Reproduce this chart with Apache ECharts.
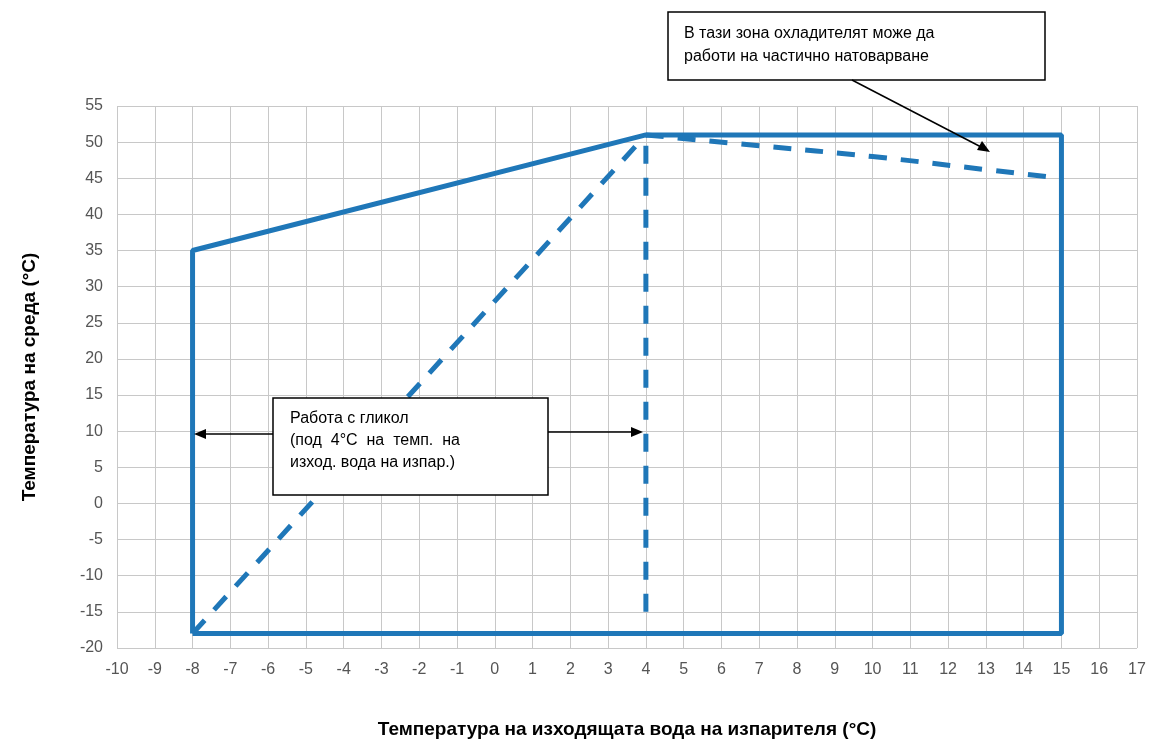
<!DOCTYPE html><html><head><meta charset="utf-8"><script src="https://cdn.jsdelivr.net/npm/echarts@6/dist/echarts.min.js"></script></head><body style="margin:0"><div id="c" style="width:1156px;height:753px"></div><script>
const envelopeX=[-8,-8,4,15,15,-8];
const envelopeY=[-18,35,51,51,-18,-18];
const glycolX=[-8,4];
const glycolY=[-18,51];
const verticalX=[4,4];
const verticalY=[-15,51];
const partX=[4,7,10,13,15];
const partY=[51,49.5,48,46.2,45];
const zip=(a,b)=>a.map((v,i)=>[v,b[i]]);
const blue='#1f77b8';
const ch=echarts.init(document.getElementById('c'));
const f='Arial, Liberation Sans, sans-serif';
ch.setOption({
animation:false,backgroundColor:'#fff',
grid:{left:117,right:19,top:106,bottom:105},
xAxis:{type:'value',min:-10,max:17,interval:1,name:'Температура на изходящата вода на изпарителя (°C)',nameLocation:'middle',nameGap:72,
nameTextStyle:{fontFamily:f,fontSize:19,fontWeight:'bold',color:'#000'},
axisLine:{show:false},axisTick:{show:false},axisLabel:{fontFamily:f,fontSize:16,color:'#555',margin:14},splitLine:{lineStyle:{color:'#c8c8c8'}}},
yAxis:{type:'value',min:-20,max:55,interval:5,name:'Температура на среда (°C)',nameLocation:'middle',nameGap:78,
nameTextStyle:{fontFamily:f,fontSize:19,fontWeight:'bold',color:'#000'},
axisLine:{show:false},axisTick:{show:false},axisLabel:{fontFamily:f,fontSize:16,color:'#555',margin:14},splitLine:{lineStyle:{color:'#c8c8c8'}}},
series:[
{type:'line',data:zip(envelopeX,envelopeY),symbol:'none',lineStyle:{color:blue,width:5}},
{type:'line',data:zip(glycolX,glycolY),symbol:'none',lineStyle:{color:blue,width:5,type:[18,14]}},
{type:'line',data:zip(verticalX,verticalY),symbol:'none',lineStyle:{color:blue,width:5,type:[18,14]}},
{type:'line',data:zip(partX,partY),smooth:true,symbol:'none',lineStyle:{color:blue,width:5,type:[18,14]}}
],
graphic:[
{type:'rect',shape:{x:273,y:398,width:275,height:97},style:{fill:'#fff',stroke:'#000',lineWidth:1.5},z:10},
{type:'text',x:290,y:408,style:{text:'Работа с гликол\n(под  4°C  на  темп.  на\nизход. вода на изпар.)',font:'16px '+f,fill:'#000',lineHeight:22},z:11},
{type:'line',shape:{x1:273,y1:434,x2:200,y2:434},style:{stroke:'#000',lineWidth:1.5},z:10},
{type:'polygon',shape:{points:[[194,434],[206,429],[206,439]]},style:{fill:'#000'},z:10},
{type:'line',shape:{x1:548,y1:432,x2:636,y2:432},style:{stroke:'#000',lineWidth:1.5},z:10},
{type:'polygon',shape:{points:[[643,432],[631,427],[631,437]]},style:{fill:'#000'},z:10},
{type:'rect',shape:{x:668,y:12,width:377,height:68},style:{fill:'#fff',stroke:'#000',lineWidth:1.5},z:10},
{type:'text',x:684,y:22,style:{text:'В тази зона охладителят може да\nработи на частично натоварване',font:'16px '+f,fill:'#000',lineHeight:23},z:11},
{type:'line',shape:{x1:852,y1:80,x2:983,y2:148},style:{stroke:'#000',lineWidth:1.5},z:10},
{type:'polygon',shape:{points:[[990,152],[977,150],[982,141]]},style:{fill:'#000'},z:10}
]});
</script></body></html>
